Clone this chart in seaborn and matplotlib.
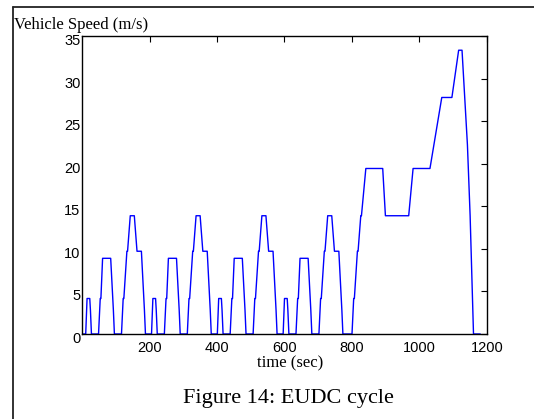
import matplotlib
matplotlib.use("Agg")
import matplotlib.pyplot as plt
import matplotlib.transforms as mtransforms
from matplotlib.lines import Line2D
import seaborn as sns
import pandas as pd

# NEDC speed trace (4 x ECE-15 urban + EUDC), breakpoints
time_s = [0, 11, 15, 23, 25, 28, 49, 54, 56, 61, 85, 93, 96, 117, 122, 124, 133, 135, 143, 155, 163, 176, 185, 188,
          206, 210, 218, 220, 223, 244, 249, 251, 256, 280, 288, 291, 312, 317, 319, 328, 330, 338, 350, 358, 371, 380, 383,
          401, 405, 413, 415, 418, 439, 444, 446, 451, 475, 483, 486, 507, 512, 514, 523, 525, 533, 545, 553, 566, 575, 578,
          596, 600, 608, 610, 613, 634, 639, 641, 646, 670, 678, 681, 702, 707, 709, 718, 720, 728, 740, 748, 761, 770, 773,
          800, 805, 807, 816, 818, 826, 828, 841, 891, 899, 968, 981, 1031, 1066, 1096, 1116, 1126, 1142, 1150, 1160, 1180]
speed_ms = [0, 0, 4.17, 4.17, 2.78, 0, 0, 4.17, 4.17, 8.89, 8.89, 2.78, 0, 0, 4.17, 4.17, 9.72, 9.72, 13.89, 13.89, 9.72, 9.72, 2.78, 0,
            0, 4.17, 4.17, 2.78, 0, 0, 4.17, 4.17, 8.89, 8.89, 2.78, 0, 0, 4.17, 4.17, 9.72, 9.72, 13.89, 13.89, 9.72, 9.72, 2.78, 0,
            0, 4.17, 4.17, 2.78, 0, 0, 4.17, 4.17, 8.89, 8.89, 2.78, 0, 0, 4.17, 4.17, 9.72, 9.72, 13.89, 13.89, 9.72, 9.72, 2.78, 0,
            0, 4.17, 4.17, 2.78, 0, 0, 4.17, 4.17, 8.89, 8.89, 2.78, 0, 0, 4.17, 4.17, 9.72, 9.72, 13.89, 13.89, 9.72, 9.72, 2.78, 0,
            0, 4.17, 4.17, 9.72, 9.72, 13.89, 13.89, 19.44, 19.44, 13.89, 13.89, 19.44, 19.44, 27.78, 27.78, 33.33, 33.33, 22.22, 13.89, 0, 0]

x_ticks = [200, 400, 600, 800, 1000, 1200]
y_ticks = [0, 5, 10, 15, 20, 25, 30, 35]

df = pd.DataFrame({'time': time_s, 'speed': speed_ms})

sns.set_theme(style='white')
plt.rcParams['font.family'] = ['Liberation Sans', 'DejaVu Sans']

W, H = 534, 419
fig = plt.figure(figsize=(W / 100, H / 100), dpi=100)
fig.patch.set_facecolor('white')

left, right, top, bottom = 82, 487, 36, 334
ax = fig.add_axes([left / W, 1 - bottom / H, (right - left) / W, (bottom - top) / H])

sns.lineplot(data=df, x='time', y='speed', ax=ax, color='#0000ff', lw=1.0,
             sort=False, estimator=None)

ax.set_xlim(0, 1200)
ax.set_ylim(0, 35)
ax.set_xticks(x_ticks)
ax.set_yticks(y_ticks)
ax.set_xlabel('')
ax.set_ylabel('')
ax.tick_params(direction='in', length=4, width=0.8, color='black',
               top=True, right=True, labelsize=10.5, labelcolor='black')
ax.tick_params(axis='y', pad=1)
ax.tick_params(axis='x', pad=5)
for s in ax.spines.values():
    s.set_color('black')
    s.set_linewidth(1.0)
ax.grid(False)

# y labels sit a little below their ticks in the original export
shift = mtransforms.ScaledTranslation(0, -3.5 / 100, fig.dpi_scale_trans)
for lbl in ax.get_yticklabels():
    lbl.set_transform(lbl.get_transform() + shift)

serif = ['Liberation Serif', 'DejaVu Serif']
fig.text(14 / W, 1 - 25 / H, 'Vehicle Speed (m/s)', ha='left', va='center',
         family=serif, fontsize=12, color='black')
fig.text(290 / W, 1 - 363 / H, 'time (sec)', ha='center', va='center',
         family=serif, fontsize=12, color='black')
fig.text(288 / W, 1 - 398 / H, 'Figure 14: EUDC cycle', ha='center', va='center',
         family=serif, fontsize=16, color='black')

# page frame lines around the figure
fig.add_artist(Line2D([12.5 / W, 12.5 / W], [0, 1 - 7 / H], transform=fig.transFigure,
                      color='#222222', lw=1.3))
fig.add_artist(Line2D([12.5 / W, 1], [1 - 7 / H, 1 - 7 / H], transform=fig.transFigure,
                      color='#222222', lw=1.3))

fig.savefig('out.png', dpi=100)
